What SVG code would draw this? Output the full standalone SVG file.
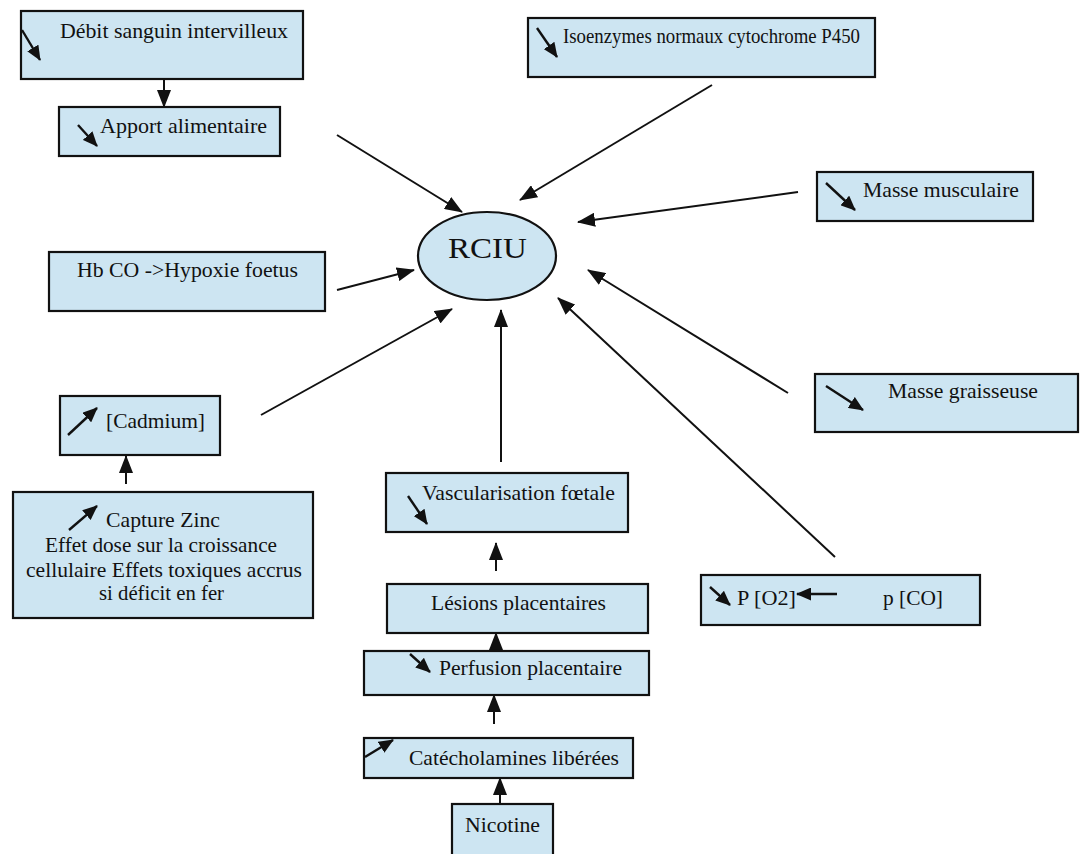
<svg xmlns="http://www.w3.org/2000/svg" width="1081" height="854" viewBox="0 0 1081 854">
<style>
.box{fill:#cde5f2;stroke:#111;stroke-width:2.2}
.t{font-family:"Liberation Serif","Times New Roman",serif;font-size:21px;fill:#111}
.c{stroke:#111;stroke-width:2;fill:none}
.s{stroke:#111;stroke-width:2.4;fill:none}
</style>
<defs>
<marker id="ah" markerUnits="userSpaceOnUse" markerWidth="18" markerHeight="14" viewBox="0 0 18 14" refX="17" refY="7" orient="auto">
<path d="M0,0 L18,7 L0,14 Z" fill="#111"/>
</marker>
<marker id="sh" markerUnits="userSpaceOnUse" markerWidth="15" markerHeight="13" viewBox="0 0 15 13" refX="14" refY="6.5" orient="auto">
<path d="M0,0 L15,6.5 L0,13 Z" fill="#111"/>
</marker>
</defs>
<rect width="1081" height="854" fill="#fff"/>

<g id="connectors">
<line class="c" x1="337" y1="135" x2="462" y2="212" marker-end="url(#ah)"/>
<line class="c" x1="712" y1="85" x2="520" y2="200" marker-end="url(#ah)"/>
<line class="c" x1="798" y1="192" x2="578" y2="222" marker-end="url(#ah)"/>
<line class="c" x1="337" y1="290" x2="414" y2="270" marker-end="url(#ah)"/>
<line class="c" x1="261" y1="415" x2="452" y2="309" marker-end="url(#ah)"/>
<line class="c" x1="501" y1="462" x2="501" y2="310" marker-end="url(#ah)"/>
<line class="c" x1="788" y1="393" x2="588" y2="270" marker-end="url(#ah)"/>
<line class="c" x1="835" y1="557" x2="558" y2="298" marker-end="url(#ah)"/>
<line class="c" x1="164" y1="79" x2="164" y2="107" marker-end="url(#ah)"/>
<line class="c" x1="126" y1="484" x2="126" y2="456" marker-end="url(#ah)"/>
<line class="c" x1="496" y1="571" x2="496" y2="543" marker-end="url(#ah)"/>
<line class="c" x1="496" y1="652" x2="496" y2="633" marker-end="url(#ah)"/>
<line class="c" x1="494" y1="724" x2="494" y2="695" marker-end="url(#ah)"/>
<line class="c" x1="500" y1="805" x2="500" y2="778" marker-end="url(#ah)"/>
</g>

<g id="n-debit">
<rect class="box" x="21" y="11" width="282" height="68"/>
<line class="s" x1="22" y1="30" x2="40" y2="60" marker-end="url(#sh)"/>
<text class="t" x="60" y="38" textLength="228" lengthAdjust="spacingAndGlyphs">Débit sanguin intervilleux</text>
</g>

<g id="n-apport">
<rect class="box" x="59" y="107" width="221" height="49"/>
<line class="s" x1="78" y1="125" x2="97" y2="146" marker-end="url(#sh)"/>
<text class="t" x="100" y="133" textLength="167" lengthAdjust="spacingAndGlyphs">Apport alimentaire</text>
</g>

<g id="n-isoenzymes">
<rect class="box" x="528" y="18" width="347" height="59"/>
<line class="s" x1="537" y1="28" x2="557" y2="57" marker-end="url(#sh)"/>
<text class="t" x="563" y="43" textLength="297" lengthAdjust="spacingAndGlyphs">Isoenzymes normaux cytochrome P450</text>
</g>

<g id="n-musculaire">
<rect class="box" x="817" y="172" width="216" height="49"/>
<line class="s" x1="826" y1="183" x2="855" y2="210" marker-end="url(#sh)"/>
<text class="t" x="863" y="197" textLength="156" lengthAdjust="spacingAndGlyphs">Masse musculaire</text>
</g>

<g id="n-hbco">
<rect class="box" x="49" y="252" width="276" height="59"/>
<text class="t" x="77" y="277" textLength="221" lengthAdjust="spacingAndGlyphs">Hb CO -&gt;Hypoxie foetus</text>
</g>

<g id="n-rciu">
<ellipse class="box" cx="487" cy="256" rx="69" ry="44"/>
<text class="t" x="448" y="258" textLength="79" lengthAdjust="spacingAndGlyphs" style="font-size:30px">RCIU</text>
</g>

<g id="n-cadmium">
<rect class="box" x="60" y="396" width="160" height="59"/>
<line class="s" x1="68" y1="435" x2="97" y2="408" marker-end="url(#sh)"/>
<text class="t" x="106" y="428" textLength="99" lengthAdjust="spacingAndGlyphs">[Cadmium]</text>
</g>

<g id="n-zinc">
<rect class="box" x="13" y="492" width="300" height="126"/>
<line class="s" x1="69" y1="530" x2="97" y2="506" marker-end="url(#sh)"/>
<text class="t" x="106" y="527" textLength="114" lengthAdjust="spacingAndGlyphs">Capture Zinc</text>
<text class="t" x="45" y="552" textLength="232" lengthAdjust="spacingAndGlyphs">Effet dose sur la croissance</text>
<text class="t" x="26" y="577" textLength="276" lengthAdjust="spacingAndGlyphs">cellulaire Effets toxiques accrus</text>
<text class="t" x="99" y="600" textLength="125" lengthAdjust="spacingAndGlyphs">si déficit en fer</text>
</g>

<g id="n-graisseuse">
<rect class="box" x="815" y="374" width="263" height="58"/>
<line class="s" x1="826" y1="386" x2="863" y2="410" marker-end="url(#sh)"/>
<text class="t" x="888" y="398" textLength="150" lengthAdjust="spacingAndGlyphs">Masse graisseuse</text>
</g>

<g id="n-vasc">
<rect class="box" x="386" y="473" width="242" height="59"/>
<line class="s" x1="408" y1="496" x2="427" y2="524" marker-end="url(#sh)"/>
<text class="t" x="422" y="500" textLength="193" lengthAdjust="spacingAndGlyphs">Vascularisation fœtale</text>
</g>

<g id="n-lesions">
<rect class="box" x="387" y="584" width="261" height="49"/>
<text class="t" x="431" y="610" textLength="175" lengthAdjust="spacingAndGlyphs">Lésions placentaires</text>
</g>

<g id="n-perfusion">
<rect class="box" x="364" y="651" width="285" height="44"/>
<line class="s" x1="410" y1="654" x2="430" y2="672" marker-end="url(#sh)"/>
<text class="t" x="439" y="675" textLength="183" lengthAdjust="spacingAndGlyphs">Perfusion placentaire</text>
</g>

<g id="n-catech">
<rect class="box" x="364" y="738" width="269" height="40"/>
<line class="s" x1="365" y1="757" x2="393" y2="740" marker-end="url(#sh)"/>
<text class="t" x="409" y="765" textLength="210" lengthAdjust="spacingAndGlyphs">Catécholamines libérées</text>
</g>

<g id="n-nicotine">
<rect class="box" x="452" y="804" width="101" height="60"/>
<text class="t" x="465" y="832" textLength="75" lengthAdjust="spacingAndGlyphs">Nicotine</text>
</g>

<g id="n-po2">
<rect class="box" x="701" y="575" width="279" height="50"/>
<line class="s" x1="710" y1="587" x2="730" y2="605" marker-end="url(#sh)"/>
<text class="t" x="737" y="605" textLength="59" lengthAdjust="spacingAndGlyphs">P [O2]</text>
<line class="s" x1="837" y1="594" x2="797" y2="594" marker-end="url(#sh)"/>
<text class="t" x="883" y="605" textLength="60" lengthAdjust="spacingAndGlyphs">p [CO]</text>
</g>
</svg>
